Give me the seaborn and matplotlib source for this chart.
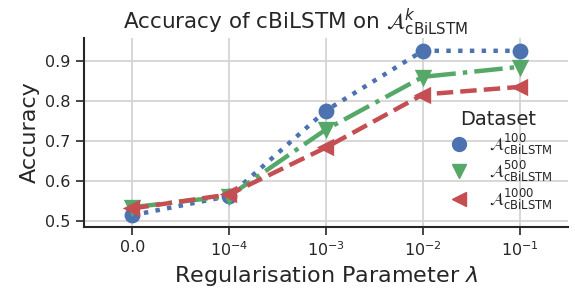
import matplotlib
matplotlib.use("Agg")
import matplotlib.pyplot as plt
import seaborn as sns
import pandas as pd
from matplotlib.lines import Line2D

# regularisation values (categorical x axis)
reg_params = ["0.0", "$10^{-4}$", "$10^{-3}$", "$10^{-2}$", "$10^{-1}$"]
datasets = ["$\\mathcal{A}^{100}_{\\mathrm{cBiLSTM}}$",
            "$\\mathcal{A}^{500}_{\\mathrm{cBiLSTM}}$",
            "$\\mathcal{A}^{1000}_{\\mathrm{cBiLSTM}}$"]
acc_100 = [0.515, 0.563, 0.776, 0.925, 0.925]
acc_500 = [0.535, 0.563, 0.729, 0.860, 0.885]
acc_1000 = [0.532, 0.567, 0.684, 0.816, 0.835]

colors = ["#4C72B0", "#55A868", "#C44E52"]
markers = ["o", "v", "<"]
linestyles = [":", "-.", "--"]

rows = []
for name, vals in zip(datasets, [acc_100, acc_500, acc_1000]):
    for p, v in zip(reg_params, vals):
        rows.append({"Regularisation": p, "Accuracy": v, "Dataset": name})
df = pd.DataFrame(rows)

sns.set_style("ticks", {"axes.grid": True, "grid.color": ".82"})
plt.rcParams["font.family"] = ["DejaVu Sans"]
plt.rcParams["axes.linewidth"] = 1.5
plt.rcParams["xtick.major.width"] = 1.2
plt.rcParams["ytick.major.width"] = 1.2
plt.rcParams["xtick.major.size"] = 6
plt.rcParams["ytick.major.size"] = 6

fig, ax = plt.subplots(figsize=(5.75, 2.92), dpi=100)
fig.subplots_adjust(left=0.146, right=0.988, top=0.870, bottom=0.223)

sns.pointplot(data=df, x="Regularisation", y="Accuracy", hue="Dataset",
              order=reg_params, hue_order=datasets, palette=colors,
              markers=markers, linestyles=linestyles, errorbar=None,
              markersize=9, linewidth=3.2, ax=ax, legend=False)

ax.set_xlim(-0.5, 4.5)
ax.set_ylim(0.486, 0.957)
ax.set_yticks([0.5, 0.6, 0.7, 0.8, 0.9])
ax.grid(True, axis="both", color=".82", linewidth=1.2)
ax.set_axisbelow(True)
ax.tick_params(axis="both", labelsize=11.5, colors="#262626")
ax.set_xlabel("Regularisation Parameter $\\lambda$", fontsize=16)
ax.set_ylabel("Accuracy", fontsize=16)
ax.set_title("Accuracy of cBiLSTM on $\\mathcal{A}^{k}_{\\mathrm{cBiLSTM}}$",
             fontsize=15.5, pad=4, x=0.437)
sns.despine(ax=ax)

handles = [Line2D([], [], color=c, marker=m, linestyle="none", markersize=10)
           for c, m in zip(colors, markers)]
leg = ax.legend(handles, datasets, title="Dataset", loc="lower right",
                frameon=False, fontsize=12, title_fontsize=14,
                handletextpad=0.8, labelspacing=0.15)

fig.savefig("out.png", dpi=100)
